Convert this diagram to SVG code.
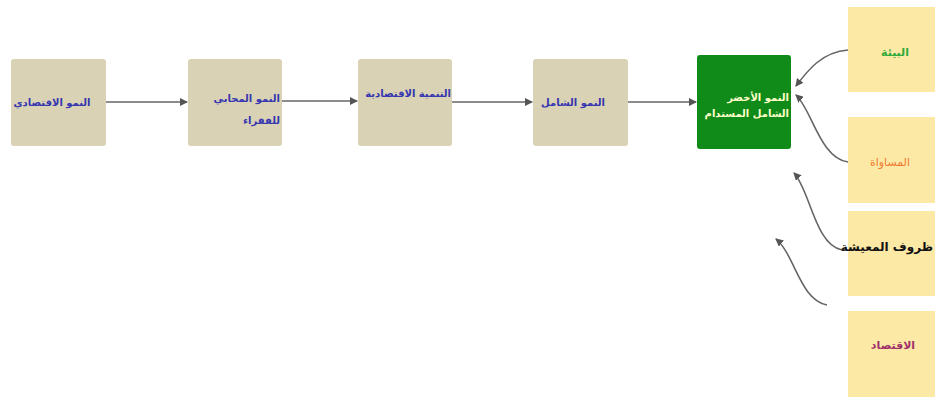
<svg xmlns="http://www.w3.org/2000/svg" width="935" height="399" viewBox="0 0 935 399">
<defs>
<marker id="ah" markerWidth="8" markerHeight="8" refX="7" refY="4" orient="auto" markerUnits="userSpaceOnUse">
<path d="M0,0 L8,4 L0,8 Z" fill="#555"/>
</marker>
<style>
.tan{fill:#d9d2b5;}
.yel{fill:#fde9a6;}
.grn{fill:#108a18;}
text{font-family:"DejaVu Sans","Noto Sans",sans-serif;font-weight:bold;font-size:10px;}
.bt{fill:#3535b0;}
.gt{fill:#ffffcc;}
.r{font-size:11px;}
.c{fill:none;stroke:#666;stroke-width:1.6;marker-end:url(#ah);}
</style>
</defs>
<rect width="935" height="399" fill="#fff"/>
<g id="connectors">
<line class="c" x1="106" y1="102" x2="187" y2="102"/>
<line class="c" x1="282" y1="101" x2="357" y2="101"/>
<line class="c" x1="452" y1="102" x2="532" y2="102"/>
<line class="c" x1="628" y1="102" x2="696" y2="102"/>
<path class="c" d="M848,50 C822,52 808,70 796,86"/>
<path class="c" d="M848,162 C820,158 812,110 796,95"/>
<path class="c" d="M842,250 C815,245 810,190 794,173"/>
<path class="c" d="M827,305 C800,300 795,255 776,239"/>
</g>
<g id="n1"><rect class="tan" x="11" y="59" width="95" height="87" rx="3"/><text class="bt" x="52" y="106" text-anchor="middle">النمو الاقتصادي</text></g>
<g id="n2"><rect class="tan" x="188" y="59" width="94" height="87" rx="3"/><text class="bt" x="280" y="102" text-anchor="end">النمو المحابي</text><text class="bt" x="280" y="124" text-anchor="end">للفقراء</text></g>
<g id="n3"><rect class="tan" x="358" y="59" width="94" height="87" rx="3"/><text class="bt" x="451" y="97" text-anchor="end">التنمية الاقتصادية</text></g>
<g id="n4"><rect class="tan" x="533" y="59" width="95" height="87" rx="3"/><text class="bt" x="605" y="106" text-anchor="end">النمو الشامل</text></g>
<g id="n5"><rect class="grn" x="697" y="55" width="94" height="94" rx="3"/><text class="gt" x="789" y="101" text-anchor="end">النمو الأخضر</text><text class="gt" x="789" y="117" text-anchor="end">الشامل المستدام</text></g>
<g id="n6"><rect class="yel" x="848" y="7" width="87" height="85"/><text class="r" x="895" y="56" text-anchor="middle" fill="#2faa3a">البيئة</text></g>
<g id="n7"><rect class="yel" x="848" y="117" width="87" height="86"/><text class="r" x="890" y="166" text-anchor="middle" fill="#ee7a30" style="font-weight:normal">المساواة</text></g>
<g id="n8"><rect class="yel" x="848" y="211" width="87" height="85"/><text x="933" y="251" text-anchor="end" fill="#111" style="font-size:12px">ظروف المعيشة</text></g>
<g id="n9"><rect class="yel" x="848" y="311" width="87" height="86"/><text class="r" x="893" y="349" text-anchor="middle" fill="#a0306a">الاقتصاد</text></g>
</svg>
